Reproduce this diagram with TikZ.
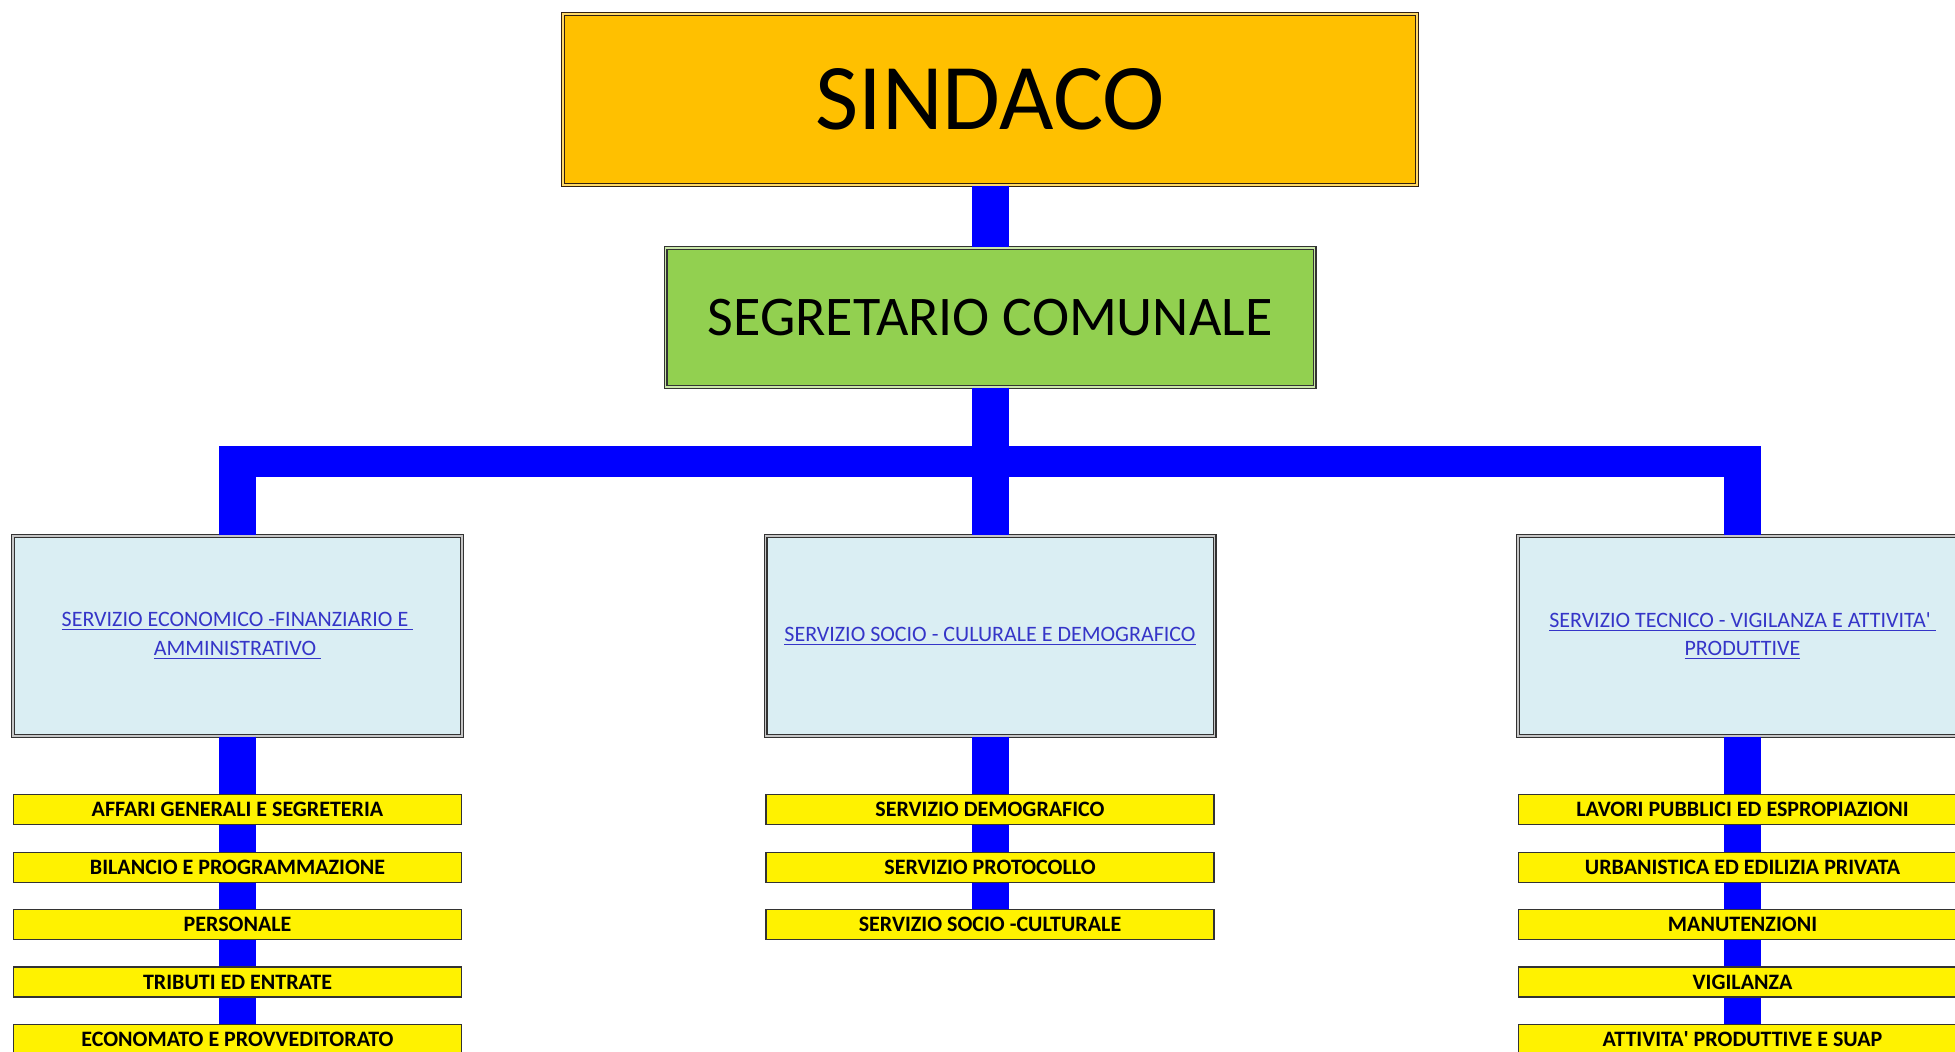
\documentclass[tikz,border=0pt]{standalone}
\usepackage{fontspec}
\setmainfont{Carlito}
\usepackage{xcolor}
\usepackage{tikz}
\usetikzlibrary{positioning}

\definecolor{gold}{HTML}{FFC000}
\definecolor{grass}{HTML}{92D050}
\definecolor{sky}{HTML}{DAEEF3}
\definecolor{linkblue}{HTML}{0000FF}
\definecolor{textblue}{HTML}{3535C8}

\begin{document}
\begin{tikzpicture}[
    x=0.5pt, y=-0.5pt,
    node distance=13.1pt and 151.15pt,
    head/.style={
        rectangle, draw=black!75!brown, double=gold!60!white, double distance=0.8pt, line width=0.6pt,
        fill=gold, minimum width=427pt, minimum height=85.5pt, font=\fontsize{47}{56}\selectfont
    },
    second/.style={
        rectangle, draw=black!80, double=grass!50!white, double distance=0.8pt, line width=0.6pt,
        fill=grass, minimum width=324.5pt, minimum height=69.5pt, font=\fontsize{28}{34}\selectfont
    },
    service/.style={
        rectangle, draw=black!80, double=gray!45, double distance=0.8pt, line width=0.6pt,
        fill=sky, minimum width=224.5pt, minimum height=100pt, align=center, text=textblue,
        font=\fontsize{11}{14.3}\selectfont
    },
    unit/.style={
        rectangle, draw=black!80, line width=0.6pt, fill=yellow, inner sep=0pt,
        minimum width=224pt, minimum height=15pt, font=\bfseries\fontsize{11}{13}\selectfont
    },
    link/.style={draw=linkblue, line width=18.5pt},
    bus/.style={draw=linkblue, line width=15.5pt}
]
    \fill [white] (0,0) rectangle (1955,1052);
    \useasboundingbox (0,0) rectangle (1955,1052);

    \node [head] (sindaco) at (990,99.5) {SINDACO};
    \node [second, below=30.9pt of sindaco] (segretario) {SEGRETARIO COMUNALE};

    \node [service, below=73.9pt of segretario] (servSocio)
        {\underline{SERVIZIO SOCIO - CULURALE E DEMOGRAFICO}};
    \node [service, left=of servSocio] (servEcon)
        {\underline{SERVIZIO ECONOMICO -FINANZIARIO E\ }\\ \underline{AMMINISTRATIVO\ }};
    \node [service, right=of servSocio] (servTec)
        {\underline{SERVIZIO TECNICO - VIGILANZA E ATTIVITA\textquotesingle\ }\\ \underline{PRODUTTIVE}};

    \node [unit, below=28.8pt of servEcon] (econ1) {AFFARI GENERALI E SEGRETERIA};
    \node [unit, below=of econ1] (econ2) {BILANCIO E PROGRAMMAZIONE};
    \node [unit, below=of econ2] (econ3) {PERSONALE};
    \node [unit, below=of econ3] (econ4) {TRIBUTI ED ENTRATE};
    \node [unit, below=of econ4] (econ5) {ECONOMATO E PROVVEDITORATO};

    \node [unit, below=28.8pt of servSocio] (socio1) {SERVIZIO DEMOGRAFICO};
    \node [unit, below=of socio1] (socio2) {SERVIZIO PROTOCOLLO};
    \node [unit, below=of socio2] (socio3) {SERVIZIO SOCIO -CULTURALE};

    \node [unit, below=28.8pt of servTec] (tec1) {LAVORI PUBBLICI ED ESPROPIAZIONI};
    \node [unit, below=of tec1] (tec2) {URBANISTICA ED EDILIZIA PRIVATA};
    \node [unit, below=of tec2] (tec3) {MANUTENZIONI};
    \node [unit, below=of tec3] (tec4) {VIGILANZA};
    \node [unit, below=of tec4] (tec5) {ATTIVITA\textquotesingle\ PRODUTTIVE E SUAP};

    \coordinate (busMid) at (990,461.5);
    \coordinate (busTop) at (990,446);

    \path [link] (sindaco) -- (segretario);
    \path [link] (segretario) -- (servSocio);
    \path [bus] (servEcon.north |- busMid) -- (servTec.north |- busMid);
    \path [link] (servEcon.north) -- (servEcon.north |- busTop);
    \path [link] (servTec.north) -- (servTec.north |- busTop);

    \path [link] (servEcon) -- (econ1);
    \path [link] (econ1) -- (econ2);
    \path [link] (econ2) -- (econ3);
    \path [link] (econ3) -- (econ4);
    \path [link] (econ4) -- (econ5);

    \path [link] (servSocio) -- (socio1);
    \path [link] (socio1) -- (socio2);
    \path [link] (socio2) -- (socio3);

    \path [link] (servTec) -- (tec1);
    \path [link] (tec1) -- (tec2);
    \path [link] (tec2) -- (tec3);
    \path [link] (tec3) -- (tec4);
    \path [link] (tec4) -- (tec5);
\end{tikzpicture}
\end{document}
